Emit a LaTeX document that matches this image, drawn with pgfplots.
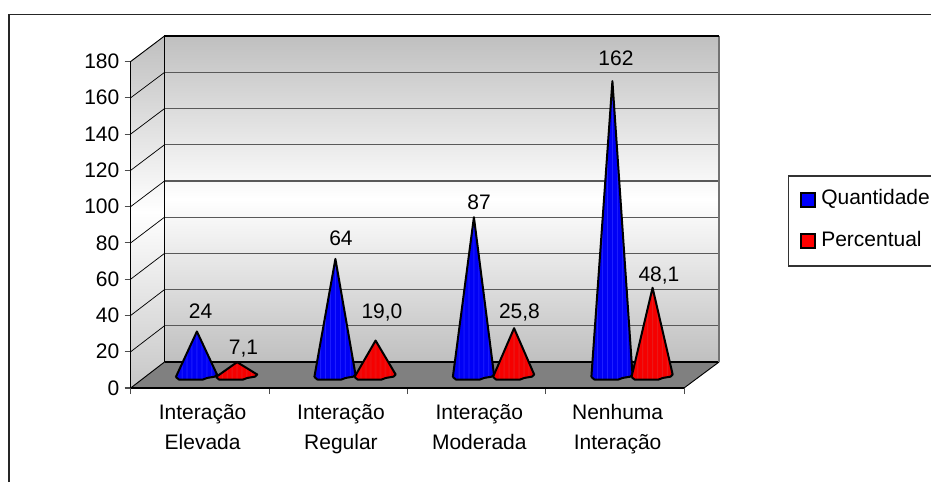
\documentclass[border=0pt]{standalone}
\usepackage{pgfplots}
\pgfplotsset{compat=1.18}
\usepackage{fontspec}
\setmainfont{Liberation Sans}
\definecolor{bA}{rgb}{0,0,0.96}
\definecolor{bB}{rgb}{0.13,0.13,1}
\definecolor{bD}{rgb}{0,0,0.86}
\definecolor{rA}{rgb}{0.96,0,0}
\definecolor{rB}{rgb}{0.9,0.13,0.13}
\definecolor{rD}{rgb}{0.86,0,0}
\pgfdeclarehorizontalshading{bluecone}{100bp}{color(0bp)=(bD); color(25bp)=(bD); color(28bp)=(bA); color(31bp)=(bA); color(32bp)=(bB); color(33bp)=(bA); color(37bp)=(bA); color(38bp)=(bB); color(39bp)=(bA); color(43bp)=(bA); color(44bp)=(bB); color(45bp)=(bA); color(49bp)=(bA); color(50bp)=(bB); color(51bp)=(bA); color(55bp)=(bA); color(56bp)=(bB); color(57bp)=(bA); color(61bp)=(bA); color(62bp)=(bB); color(63bp)=(bA); color(67bp)=(bA); color(68bp)=(bB); color(69bp)=(bA); color(73bp)=(bD); color(100bp)=(bD)}
\pgfdeclarehorizontalshading{redcone}{100bp}{color(0bp)=(rA); color(28bp)=(rA); color(31bp)=(rA); color(32bp)=(rB); color(33bp)=(rA); color(37bp)=(rA); color(38bp)=(rB); color(39bp)=(rA); color(43bp)=(rA); color(44bp)=(rB); color(45bp)=(rA); color(49bp)=(rA); color(50bp)=(rB); color(51bp)=(rA); color(55bp)=(rA); color(56bp)=(rB); color(57bp)=(rA); color(61bp)=(rA); color(62bp)=(rB); color(63bp)=(rA); color(67bp)=(rA); color(68bp)=(rB); color(69bp)=(rA); color(73bp)=(rD); color(100bp)=(rD)}
\newcommand{\lab}{\fontsize{15.75}{22.5}\selectfont}
% #1 = x position, #2 = value, #3 = shading
\newcommand{\cone}[3]{\addplot[shade,shading=#3,draw=black,line width=1.5pt,line join=round,mark=none,forget plot]
 coordinates {({#1-0.152},-1.1) ({#1-0.13},-2.5) ({#1+0.043},-2.5) ({#1+0.075},-1.6) ({#1+0.13},-0.9) ({#1+0.145},0.3) (#1,#2) ({#1-0.152},-1.1)};}
\begin{document}
\begin{tikzpicture}
\path[use as bounding box] (0,0) rectangle (698.25pt,-361.5pt);
\begin{scope}[x=0.75pt,y=-0.75pt]
 % frame
 \draw[line width=1.1pt,color=black!85] (9,482) -- (9,14.5) -- (931,14.5);
 % walls
 \shade[top color=black!25,bottom color=black!25,middle color=white] (164.5,36) rectangle (719,362);
 \shade[top color=black!25,bottom color=black!22,middle color=white] (130.7,36) -- (164.5,36) -- (164.5,388) -- (130.7,388) -- cycle;
 \fill[white] (130,36) -- (130,61.5) -- (164.5,36) -- cycle;
 \foreach \k in {1,...,8}{
  \draw[line width=1pt,color=black!65] (164.5,{362-36.2*\k}) -- (719,{362-36.2*\k});
  \draw[line width=0.55pt,color=black] (130.7,{388-36.28*\k}) -- (164.5,{362-36.2*\k});
 }
 \fill[color=black!50] (130.7,388) -- (164.5,362) -- (719,362) -- (684,388) -- cycle;
 \fill[white] (164.5,388) -- (164.5,388.5) -- (684,388.5) -- cycle;
 \draw[line width=1.3pt,black] (164.5,362) -- (719,362);
 \draw[line width=0.7pt,black] (130.7,388) -- (164.5,362);
 \draw[line width=0.7pt,black] (684,388) -- (719,362);
 \draw[line width=0.9pt,black!55] (719,36) -- (719,362);
 \draw[line width=0.9pt,black] (164.5,362) -- (164.5,36) -- (719,36);
 \draw[line width=0.7pt,black] (130.7,61.5) -- (164.5,36);
 % legend
 \draw[line width=0.9pt,color=black!80] (931,176) -- (788.7,176) -- (788.7,266) -- (931,266);
 \draw[line width=1.1pt,black,fill={rgb,1:red,0;green,0;blue,1}] (801,193) rectangle (815,207);
 \draw[line width=1.1pt,black,fill={rgb,1:red,1;green,0;blue,0}] (801,234) rectangle (815,248);
 \node[anchor=base west,inner sep=0pt,font=\lab] at (821,204) {Quantidade};
 \node[anchor=base west,inner sep=0pt,font=\lab] at (821,246.7) {Percentual};
\end{scope}
% axis with the scales
\begin{axis}[
 at={(98.025pt,-291pt)},anchor=south west,scale only axis,
 width=415pt,height=244.9pt,
 xmin=0,xmax=4,ymin=0,ymax=180,
 axis y line*=left,axis x line*=bottom,
 axis line style={-,line width=0.8pt,black},
 tick align=outside,
 major tick length=4.5pt,
 tick style={line width=0.8pt,color=black!70},
 ytick={0,20,...,180},
 xtick={0,1,2,3,4},xticklabels={},
 extra x ticks={0.52,1.52,2.52,3.52},
 extra x tick style={major tick length=0pt},
 extra x tick labels={{Interação\\Elevada},{Interação\\Regular},{Interação\\Moderada},{Nenhuma\\Interação}},
 x tick label style={align=center,font=\lab,yshift=-9pt},
 y tick label style={font=\lab,xshift=-0.5pt},
 /pgf/number format/assume math mode=true,
]
\end{axis}
% axis with the cones
\begin{axis}[
 at={(97.5pt,-281.25pt)},anchor=south west,scale only axis,
 width=415.5pt,height=244.9pt,
 xmin=-0.6281,xmax=3.3719,ymin=0,ymax=180,
 hide axis,clip=false,
]
\cone{-0.145}{24}{bluecone}
\cone{0.145}{7.1}{redcone}
\cone{0.855}{64}{bluecone}
\cone{1.145}{19.0}{redcone}
\cone{1.855}{87}{bluecone}
\cone{2.145}{25.8}{redcone}
\cone{2.855}{162}{bluecone}
\cone{3.145}{48.1}{redcone}
\node[anchor=base,font=\lab] at (axis cs:-0.118,31.1) {24};
\node[anchor=base,font=\lab] at (axis cs:0.191,11.3) {7,1};
\node[anchor=base,font=\lab] at (axis cs:0.895,71.4) {64};
\node[anchor=base,font=\lab] at (axis cs:1.191,31.1) {19,0};
\node[anchor=base,font=\lab] at (axis cs:1.892,91.2) {87};
\node[anchor=base,font=\lab] at (axis cs:2.184,31.4) {25,8};
\node[anchor=base,font=\lab] at (axis cs:2.881,170.6) {162};
\node[anchor=base,font=\lab] at (axis cs:3.191,51.8) {48,1};
\end{axis}
\end{tikzpicture}
\end{document}
